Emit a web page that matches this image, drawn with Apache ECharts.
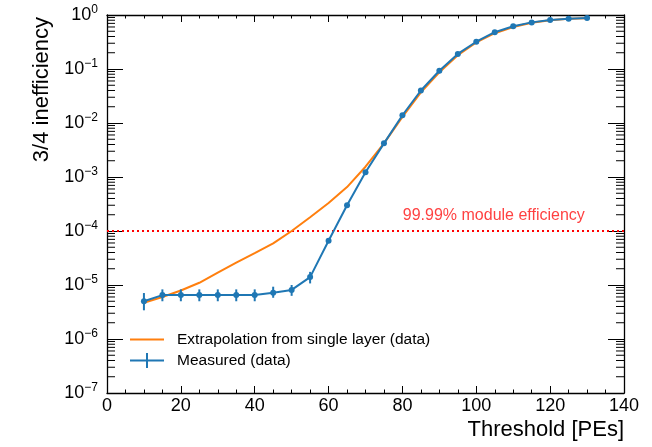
<!DOCTYPE html>
<html>
<head>
<meta charset="utf-8">
<script src="https://cdn.jsdelivr.net/npm/echarts@6/dist/echarts.min.js"></script>
<style>html,body{margin:0;padding:0;background:#fff}#c{width:652px;height:447px}</style>
</head>
<body>
<div id="c"></div>
<script>
// ---- data ----
var thresholds = [10,15,20,25,30,35,40,45,50,55,60,65,70,75,80,85,90,95,100,105,110,115,120,125,130];
var measured = [5.0e-6,6.5e-6,6.5e-6,6.5e-6,6.5e-6,6.5e-6,6.5e-6,7.2e-6,8.1e-6,1.4e-5,6.6e-5,3.0e-4,1.22e-3,4.2e-3,1.39e-2,0.040,0.093,0.19,0.32,0.48,0.62,0.73,0.81,0.855,0.88];
var measuredLow = [3.4e-6,5.0e-6,5.0e-6,5.0e-6,5.0e-6,5.0e-6,5.0e-6,5.8e-6,6.3e-6,1.07e-5,6.0e-5,3.0e-4,1.22e-3,4.2e-3,1.39e-2,0.040,0.093,0.19,0.32,0.48,0.62,0.73,0.81,0.855,0.88];
var measuredHigh = [7.1e-6,8.3e-6,8.3e-6,8.3e-6,8.3e-6,8.3e-6,8.3e-6,9.3e-6,1.0e-5,1.75e-5,7.3e-5,3.0e-4,1.22e-3,4.2e-3,1.39e-2,0.040,0.093,0.19,0.32,0.48,0.62,0.73,0.81,0.855,0.88];
var extrapolation = [4.7e-6,6.0e-6,7.9e-6,1.1e-5,1.7e-5,2.6e-5,3.9e-5,5.9e-5,1.0e-4,1.8e-4,3.3e-4,6.5e-4,1.55e-3,4.2e-3,1.3e-2,0.037,0.087,0.18,0.31,0.46,0.60,0.72,0.80,0.85,0.875];
var efficiencyLine = 1e-4;
var efficiencyLabel = '99.99% module efficiency';
var efficiencyLabelX = 80.1;
var xTicks = {min: 0, max: 140, interval: 20};
var yDecades = {min: 1e-7, max: 1};
var seriesNames = ['Extrapolation from single layer (data)', 'Measured (data)'];
var xTitle = 'Threshold [PEs]';
var yTitle = '3/4 inefficiency';

// minor log ticks (2..9 per decade)
var minorLogTicks = [];
for (var e = -7; e < 0; e++) for (var k = 2; k <= 9; k++) minorLogTicks.push(k * Math.pow(10, e));

var FONT = 'Liberation Sans';
var BLUE = '#1f77b4', ORANGE = '#ff7f0e';

var chart = echarts.init(document.getElementById('c'), null, {renderer: 'canvas'});

function yLabel(v) {
  var ex = Math.round(Math.log(v) / Math.LN10);
  var s = String(ex).replace('-', '\u2212');
  return '{b|10}{s|' + s + '}';
}

var axisLineStyle = {color: '#000', width: 1.3};
var xAxisBase = {
  type: 'value', min: xTicks.min, max: xTicks.max, interval: xTicks.interval,
  splitLine: {show: false},
  axisLine: {show: true, onZero: false, lineStyle: axisLineStyle},
  axisTick: {show: true, inside: true, length: 7, lineStyle: {color: '#000', width: 1}},
  minorTick: {show: true, splitNumber: 4, length: 3.5, lineStyle: {color: '#000', width: 1}},
  minorSplitLine: {show: false}
};
var yAxisBase = {
  type: 'log', logBase: 10, min: yDecades.min, max: yDecades.max, interval: 1, splitNumber: 7,
  splitLine: {show: false},
  axisLine: {show: true, onZero: false, lineStyle: axisLineStyle},
  axisTick: {show: true, inside: true, length: 16, lineStyle: {color: '#000', width: 1}},
  minorTick: {show: false}
};

var option = {
  animation: false,
  backgroundColor: '#fff',
  grid: {left: 107, right: 28, top: 15, bottom: 54, containLabel: false},
  xAxis: [
    Object.assign({}, xAxisBase, {position: 'bottom',
      axisLabel: {show: true, margin: 4, color: '#000', fontFamily: FONT, fontSize: 18}}),
    Object.assign({}, xAxisBase, {position: 'top', axisLabel: {show: false}})
  ],
  yAxis: [
    Object.assign({}, yAxisBase, {position: 'left',
      axisLabel: {show: true, margin: 9, color: '#000', formatter: yLabel,
        rich: {
          b: {fontFamily: FONT, fontSize: 18, color: '#000', lineHeight: 22},
          s: {fontFamily: FONT, fontSize: 12, color: '#000', verticalAlign: 'top', lineHeight: 14}
        }}}),
    Object.assign({}, yAxisBase, {position: 'right', axisLabel: {show: false}})
  ],
  legend: {
    orient: 'vertical', left: 130, top: 331.5, padding: 0,
    itemWidth: 34, itemHeight: 15, itemGap: 5,
    textStyle: {fontFamily: FONT, fontSize: 15.5, color: '#000', padding: [0, 0, 0, 8]},
    data: [
      {name: seriesNames[0], icon: 'path://M0,0L34,0L34,0Z M0,6.5h34v2h-34z M0,15L34,15L34,15Z'},
      {name: seriesNames[1], icon: 'path://M0,6.5h34v2h-34z M16,0h2v15h-2z'}
    ]
  },
  graphic: [
    {type: 'text', right: 28, top: 419,
      style: {text: xTitle, font: '22px "' + FONT + '"', fill: '#000', textAlign: 'right'}},
    {type: 'text', rotation: Math.PI / 2, x: 31, y: 17,
      style: {text: yTitle, font: '22px "' + FONT + '"', fill: '#000', textAlign: 'right', textVerticalAlign: 'top'}}
  ],
  series: [
    {
      name: 'efficiency', type: 'line', silent: true, symbol: 'none', z: 1,
      data: [[xTicks.min, efficiencyLine], [xTicks.max, efficiencyLine]],
      lineStyle: {color: '#ff0000', width: 2, type: [2, 3]}
    },
    {
      name: 'effLabel', type: 'scatter', silent: true, symbolSize: 0, z: 1,
      data: [[efficiencyLabelX, efficiencyLine]],
      label: {show: true, position: 'right', distance: 0, offset: [0, -15],
        formatter: efficiencyLabel, color: '#ff1010', fontFamily: FONT, fontSize: 16}
    },
    {
      name: seriesNames[0], type: 'line', symbol: 'none', z: 2,
      data: thresholds.map(function (x, i) { return [x, extrapolation[i]]; }),
      lineStyle: {color: ORANGE, width: 2}, itemStyle: {color: ORANGE}
    },
    {
      name: 'errorbars', type: 'custom', z: 3, silent: true,
      data: thresholds.map(function (x, i) { return [x, measuredLow[i], measuredHigh[i]]; }),
      renderItem: function (params, api) {
        var p1 = api.coord([api.value(0), api.value(1)]);
        var p2 = api.coord([api.value(0), api.value(2)]);
        return {type: 'line', shape: {x1: p1[0], y1: p1[1], x2: p2[0], y2: p2[1]},
          style: {stroke: BLUE, lineWidth: 2}};
      }
    },
    {
      name: seriesNames[1], type: 'line', symbol: 'circle', symbolSize: 6, z: 4,
      data: thresholds.map(function (x, i) { return [x, measured[i]]; }),
      lineStyle: {color: BLUE, width: 2}, itemStyle: {color: BLUE}
    },
    {
      name: 'minorticks', type: 'custom', silent: true, z: 5, clip: false,
      data: minorLogTicks.map(function (v) { return [xTicks.min, v]; }),
      renderItem: function (params, api) {
        var pl = api.coord([xTicks.min, api.value(1)]);
        var pr = api.coord([xTicks.max, api.value(1)]);
        var st = {stroke: '#000', lineWidth: 1};
        return {type: 'group', children: [
          {type: 'line', shape: {x1: pl[0], y1: pl[1], x2: pl[0] + 8, y2: pl[1]}, style: st},
          {type: 'line', shape: {x1: pr[0], y1: pr[1], x2: pr[0] - 8, y2: pr[1]}, style: st}
        ]};
      }
    }
  ]
};
chart.setOption(option);
</script>
</body>
</html>
